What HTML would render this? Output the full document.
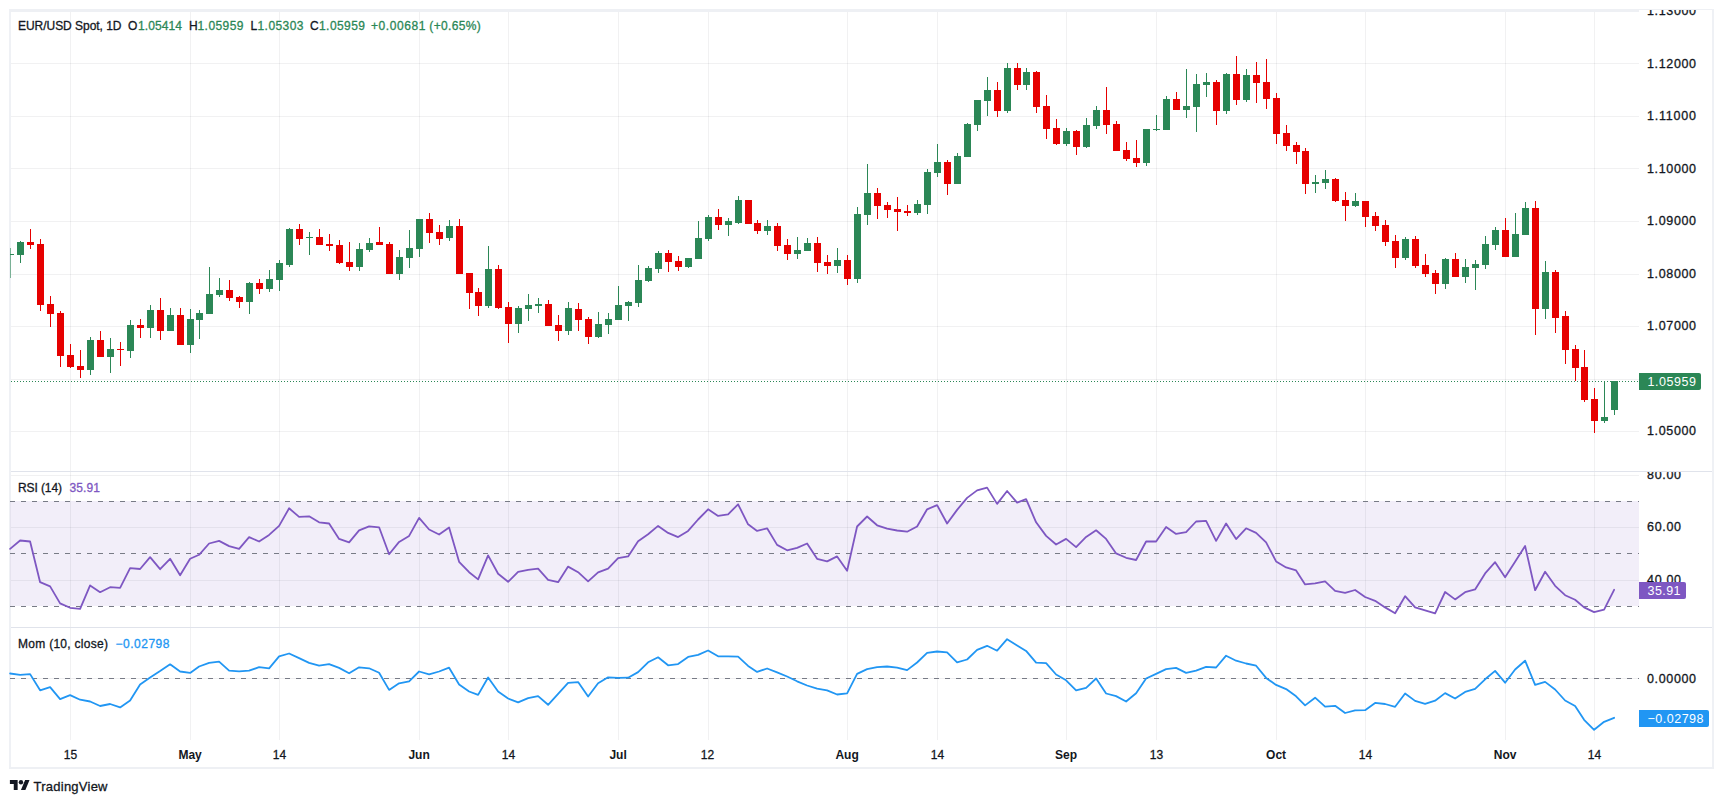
<!DOCTYPE html><html><head><meta charset="utf-8"><title>EUR/USD Spot 1D</title>
<style>html,body{margin:0;padding:0;background:#fff}body{width:1723px;height:803px;overflow:hidden;position:relative}svg{position:absolute;left:0;top:0;display:block}text{font-family:"Liberation Sans",sans-serif;font-size:12px;fill:#131722;stroke-width:0.3px;stroke-linejoin:round}.b{font-weight:bold;stroke:none}</style></head><body>
<svg width="1723" height="803" viewBox="0 0 1723 803">
<g shape-rendering="crispEdges">
<rect x="9" y="9" width="1705" height="1" fill="#eef0f4"/>
<rect x="9" y="10" width="1630" height="2" fill="#eef0f4"/>
<rect x="9" y="9" width="1" height="760" fill="#eff1f5"/>
<rect x="10" y="12" width="1" height="755" fill="#eff1f5"/>
<rect x="1712" y="9" width="2" height="760" fill="#eff1f5"/>
<rect x="9" y="767" width="1705" height="2" fill="#eef0f4"/>
<rect x="11" y="501" width="1628" height="105" fill="#f2eef9"/>
<rect x="10" y="501" width="1" height="105" fill="#e6e3ef"/>
<rect x="70" y="12" width="1" height="728" fill="#2a2e39" fill-opacity="0.065"/>
<rect x="190" y="12" width="1" height="728" fill="#2a2e39" fill-opacity="0.065"/>
<rect x="279" y="12" width="1" height="728" fill="#2a2e39" fill-opacity="0.065"/>
<rect x="419" y="12" width="1" height="728" fill="#2a2e39" fill-opacity="0.065"/>
<rect x="508" y="12" width="1" height="728" fill="#2a2e39" fill-opacity="0.065"/>
<rect x="618" y="12" width="1" height="728" fill="#2a2e39" fill-opacity="0.065"/>
<rect x="708" y="12" width="1" height="728" fill="#2a2e39" fill-opacity="0.065"/>
<rect x="847" y="12" width="1" height="728" fill="#2a2e39" fill-opacity="0.065"/>
<rect x="937" y="12" width="1" height="728" fill="#2a2e39" fill-opacity="0.065"/>
<rect x="1066" y="12" width="1" height="728" fill="#2a2e39" fill-opacity="0.065"/>
<rect x="1156" y="12" width="1" height="728" fill="#2a2e39" fill-opacity="0.065"/>
<rect x="1276" y="12" width="1" height="728" fill="#2a2e39" fill-opacity="0.065"/>
<rect x="1365" y="12" width="1" height="728" fill="#2a2e39" fill-opacity="0.065"/>
<rect x="1505" y="12" width="1" height="728" fill="#2a2e39" fill-opacity="0.065"/>
<rect x="1594" y="12" width="1" height="728" fill="#2a2e39" fill-opacity="0.065"/>
<rect x="11" y="63" width="1628" height="1" fill="#2a2e39" fill-opacity="0.065"/>
<rect x="11" y="116" width="1628" height="1" fill="#2a2e39" fill-opacity="0.065"/>
<rect x="11" y="168" width="1628" height="1" fill="#2a2e39" fill-opacity="0.065"/>
<rect x="11" y="221" width="1628" height="1" fill="#2a2e39" fill-opacity="0.065"/>
<rect x="11" y="274" width="1628" height="1" fill="#2a2e39" fill-opacity="0.065"/>
<rect x="11" y="326" width="1628" height="1" fill="#2a2e39" fill-opacity="0.065"/>
<rect x="11" y="379" width="1628" height="1" fill="#2a2e39" fill-opacity="0.065"/>
<rect x="11" y="431" width="1628" height="1" fill="#2a2e39" fill-opacity="0.065"/>
<rect x="11" y="475" width="1628" height="1" fill="#2a2e39" fill-opacity="0.065"/>
<rect x="11" y="527" width="1628" height="1" fill="#2a2e39" fill-opacity="0.065"/>
<rect x="11" y="580" width="1628" height="1" fill="#2a2e39" fill-opacity="0.065"/>
<rect x="11" y="678" width="1628" height="1" fill="#2a2e39" fill-opacity="0.065"/>
<rect x="11" y="471" width="1701" height="1" fill="#e0e3eb"/>
<rect x="11" y="627" width="1701" height="1" fill="#e0e3eb"/>
</g>
<line x1="10" y1="501.5" x2="1639" y2="501.5" stroke="#787b86" stroke-width="1" stroke-dasharray="5 6" shape-rendering="crispEdges"/>
<line x1="10" y1="553.5" x2="1639" y2="553.5" stroke="#787b86" stroke-width="1" stroke-dasharray="5 6" shape-rendering="crispEdges"/>
<line x1="10" y1="606.5" x2="1639" y2="606.5" stroke="#787b86" stroke-width="1" stroke-dasharray="5 6" shape-rendering="crispEdges"/>
<line x1="10" y1="678.5" x2="1639" y2="678.5" stroke="#787b86" stroke-width="1" stroke-dasharray="5 6" shape-rendering="crispEdges"/>
<line x1="11" y1="381.5" x2="1639" y2="381.5" stroke="#2b8756" stroke-width="1" stroke-dasharray="1 2" shape-rendering="crispEdges"/>
<g shape-rendering="crispEdges">
<rect x="10" y="254" width="4" height="1" fill="#2b8756"/>
<rect x="10" y="248" width="1" height="30" fill="#2b8756" fill-opacity="0.6"/>
<rect x="17" y="242" width="7" height="13" fill="#2b8756"/>
<rect x="20" y="241" width="1" height="22" fill="#2b8756"/>
<rect x="27" y="242" width="7" height="3" fill="#e60000"/>
<rect x="30" y="229" width="1" height="20" fill="#e60000"/>
<rect x="37" y="244" width="7" height="61" fill="#e60000"/>
<rect x="40" y="239" width="1" height="72" fill="#e60000"/>
<rect x="47" y="304" width="7" height="10" fill="#e60000"/>
<rect x="50" y="296" width="1" height="31" fill="#e60000"/>
<rect x="57" y="313" width="7" height="43" fill="#e60000"/>
<rect x="60" y="311" width="1" height="56" fill="#e60000"/>
<rect x="67" y="355" width="7" height="12" fill="#e60000"/>
<rect x="70" y="344" width="1" height="24" fill="#e60000"/>
<rect x="77" y="366" width="7" height="4" fill="#e60000"/>
<rect x="80" y="350" width="1" height="28" fill="#e60000"/>
<rect x="87" y="340" width="7" height="30" fill="#2b8756"/>
<rect x="90" y="337" width="1" height="38" fill="#2b8756"/>
<rect x="97" y="340" width="7" height="17" fill="#e60000"/>
<rect x="100" y="331" width="1" height="26" fill="#e60000"/>
<rect x="107" y="349" width="7" height="8" fill="#2b8756"/>
<rect x="110" y="338" width="1" height="35" fill="#2b8756"/>
<rect x="117" y="349" width="7" height="1" fill="#e60000"/>
<rect x="120" y="342" width="1" height="24" fill="#e60000"/>
<rect x="127" y="325" width="7" height="26" fill="#2b8756"/>
<rect x="130" y="320" width="1" height="38" fill="#2b8756"/>
<rect x="137" y="325" width="7" height="3" fill="#e60000"/>
<rect x="140" y="319" width="1" height="19" fill="#e60000"/>
<rect x="147" y="310" width="7" height="18" fill="#2b8756"/>
<rect x="150" y="305" width="1" height="33" fill="#2b8756"/>
<rect x="157" y="310" width="7" height="21" fill="#e60000"/>
<rect x="160" y="298" width="1" height="42" fill="#e60000"/>
<rect x="167" y="315" width="7" height="16" fill="#2b8756"/>
<rect x="170" y="308" width="1" height="23" fill="#2b8756"/>
<rect x="177" y="315" width="7" height="30" fill="#e60000"/>
<rect x="180" y="308" width="1" height="37" fill="#e60000"/>
<rect x="187" y="319" width="7" height="26" fill="#2b8756"/>
<rect x="190" y="309" width="1" height="44" fill="#2b8756"/>
<rect x="196" y="313" width="7" height="7" fill="#2b8756"/>
<rect x="199" y="310" width="1" height="29" fill="#2b8756"/>
<rect x="206" y="294" width="7" height="20" fill="#2b8756"/>
<rect x="209" y="267" width="1" height="47" fill="#2b8756"/>
<rect x="216" y="290" width="7" height="5" fill="#2b8756"/>
<rect x="219" y="278" width="1" height="19" fill="#2b8756"/>
<rect x="226" y="290" width="7" height="8" fill="#e60000"/>
<rect x="229" y="280" width="1" height="21" fill="#e60000"/>
<rect x="236" y="297" width="7" height="5" fill="#e60000"/>
<rect x="239" y="296" width="1" height="12" fill="#e60000"/>
<rect x="246" y="283" width="7" height="19" fill="#2b8756"/>
<rect x="249" y="282" width="1" height="32" fill="#2b8756"/>
<rect x="256" y="283" width="7" height="6" fill="#e60000"/>
<rect x="259" y="279" width="1" height="15" fill="#e60000"/>
<rect x="266" y="279" width="7" height="10" fill="#2b8756"/>
<rect x="269" y="270" width="1" height="22" fill="#2b8756"/>
<rect x="276" y="263" width="7" height="17" fill="#2b8756"/>
<rect x="279" y="260" width="1" height="31" fill="#2b8756"/>
<rect x="286" y="229" width="7" height="36" fill="#2b8756"/>
<rect x="289" y="228" width="1" height="39" fill="#2b8756"/>
<rect x="296" y="229" width="7" height="10" fill="#e60000"/>
<rect x="299" y="224" width="1" height="21" fill="#e60000"/>
<rect x="306" y="237" width="7" height="1" fill="#2b8756"/>
<rect x="309" y="232" width="1" height="23" fill="#2b8756"/>
<rect x="316" y="237" width="7" height="8" fill="#e60000"/>
<rect x="319" y="229" width="1" height="16" fill="#e60000"/>
<rect x="326" y="244" width="7" height="2" fill="#e60000"/>
<rect x="329" y="234" width="1" height="17" fill="#e60000"/>
<rect x="336" y="245" width="7" height="18" fill="#e60000"/>
<rect x="339" y="240" width="1" height="24" fill="#e60000"/>
<rect x="346" y="262" width="7" height="5" fill="#e60000"/>
<rect x="349" y="242" width="1" height="29" fill="#e60000"/>
<rect x="356" y="249" width="7" height="18" fill="#2b8756"/>
<rect x="359" y="243" width="1" height="28" fill="#2b8756"/>
<rect x="366" y="243" width="7" height="7" fill="#2b8756"/>
<rect x="369" y="238" width="1" height="14" fill="#2b8756"/>
<rect x="376" y="242" width="7" height="3" fill="#e60000"/>
<rect x="379" y="227" width="1" height="18" fill="#e60000"/>
<rect x="386" y="244" width="7" height="30" fill="#e60000"/>
<rect x="389" y="242" width="1" height="32" fill="#e60000"/>
<rect x="396" y="257" width="7" height="17" fill="#2b8756"/>
<rect x="399" y="250" width="1" height="30" fill="#2b8756"/>
<rect x="406" y="248" width="7" height="10" fill="#2b8756"/>
<rect x="409" y="230" width="1" height="38" fill="#2b8756"/>
<rect x="416" y="219" width="7" height="30" fill="#2b8756"/>
<rect x="419" y="219" width="1" height="38" fill="#2b8756"/>
<rect x="426" y="219" width="7" height="14" fill="#e60000"/>
<rect x="429" y="213" width="1" height="30" fill="#e60000"/>
<rect x="436" y="232" width="7" height="7" fill="#e60000"/>
<rect x="439" y="225" width="1" height="20" fill="#e60000"/>
<rect x="446" y="226" width="7" height="12" fill="#2b8756"/>
<rect x="449" y="220" width="1" height="21" fill="#2b8756"/>
<rect x="456" y="226" width="7" height="48" fill="#e60000"/>
<rect x="459" y="219" width="1" height="55" fill="#e60000"/>
<rect x="466" y="273" width="7" height="20" fill="#e60000"/>
<rect x="469" y="273" width="1" height="36" fill="#e60000"/>
<rect x="475" y="292" width="7" height="14" fill="#e60000"/>
<rect x="478" y="288" width="1" height="28" fill="#e60000"/>
<rect x="485" y="269" width="7" height="37" fill="#2b8756"/>
<rect x="488" y="246" width="1" height="62" fill="#2b8756"/>
<rect x="495" y="269" width="7" height="39" fill="#e60000"/>
<rect x="498" y="265" width="1" height="44" fill="#e60000"/>
<rect x="505" y="307" width="7" height="17" fill="#e60000"/>
<rect x="508" y="302" width="1" height="41" fill="#e60000"/>
<rect x="515" y="308" width="7" height="16" fill="#2b8756"/>
<rect x="518" y="306" width="1" height="27" fill="#2b8756"/>
<rect x="525" y="305" width="7" height="4" fill="#2b8756"/>
<rect x="528" y="294" width="1" height="27" fill="#2b8756"/>
<rect x="535" y="304" width="7" height="2" fill="#2b8756"/>
<rect x="538" y="298" width="1" height="15" fill="#2b8756"/>
<rect x="545" y="304" width="7" height="22" fill="#e60000"/>
<rect x="548" y="300" width="1" height="26" fill="#e60000"/>
<rect x="555" y="325" width="7" height="6" fill="#e60000"/>
<rect x="558" y="315" width="1" height="26" fill="#e60000"/>
<rect x="565" y="308" width="7" height="23" fill="#2b8756"/>
<rect x="568" y="302" width="1" height="33" fill="#2b8756"/>
<rect x="575" y="309" width="7" height="11" fill="#e60000"/>
<rect x="578" y="303" width="1" height="28" fill="#e60000"/>
<rect x="585" y="319" width="7" height="18" fill="#e60000"/>
<rect x="588" y="317" width="1" height="27" fill="#e60000"/>
<rect x="595" y="324" width="7" height="13" fill="#2b8756"/>
<rect x="598" y="312" width="1" height="26" fill="#2b8756"/>
<rect x="605" y="319" width="7" height="6" fill="#2b8756"/>
<rect x="608" y="313" width="1" height="21" fill="#2b8756"/>
<rect x="615" y="305" width="7" height="15" fill="#2b8756"/>
<rect x="618" y="286" width="1" height="34" fill="#2b8756"/>
<rect x="625" y="302" width="7" height="4" fill="#2b8756"/>
<rect x="628" y="301" width="1" height="20" fill="#2b8756"/>
<rect x="635" y="280" width="7" height="23" fill="#2b8756"/>
<rect x="638" y="265" width="1" height="42" fill="#2b8756"/>
<rect x="645" y="268" width="7" height="13" fill="#2b8756"/>
<rect x="648" y="266" width="1" height="16" fill="#2b8756"/>
<rect x="655" y="253" width="7" height="16" fill="#2b8756"/>
<rect x="658" y="251" width="1" height="22" fill="#2b8756"/>
<rect x="665" y="253" width="7" height="9" fill="#e60000"/>
<rect x="668" y="250" width="1" height="22" fill="#e60000"/>
<rect x="675" y="261" width="7" height="6" fill="#e60000"/>
<rect x="678" y="256" width="1" height="15" fill="#e60000"/>
<rect x="685" y="258" width="7" height="9" fill="#2b8756"/>
<rect x="688" y="258" width="1" height="10" fill="#2b8756"/>
<rect x="695" y="238" width="7" height="21" fill="#2b8756"/>
<rect x="698" y="221" width="1" height="38" fill="#2b8756"/>
<rect x="705" y="217" width="7" height="22" fill="#2b8756"/>
<rect x="708" y="215" width="1" height="26" fill="#2b8756"/>
<rect x="715" y="217" width="7" height="8" fill="#e60000"/>
<rect x="718" y="209" width="1" height="21" fill="#e60000"/>
<rect x="725" y="221" width="7" height="4" fill="#2b8756"/>
<rect x="728" y="218" width="1" height="18" fill="#2b8756"/>
<rect x="735" y="200" width="7" height="23" fill="#2b8756"/>
<rect x="738" y="196" width="1" height="28" fill="#2b8756"/>
<rect x="745" y="200" width="7" height="24" fill="#e60000"/>
<rect x="754" y="223" width="7" height="8" fill="#e60000"/>
<rect x="757" y="220" width="1" height="14" fill="#e60000"/>
<rect x="764" y="226" width="7" height="5" fill="#2b8756"/>
<rect x="767" y="220" width="1" height="15" fill="#2b8756"/>
<rect x="774" y="226" width="7" height="20" fill="#e60000"/>
<rect x="777" y="223" width="1" height="28" fill="#e60000"/>
<rect x="784" y="245" width="7" height="9" fill="#e60000"/>
<rect x="787" y="239" width="1" height="21" fill="#e60000"/>
<rect x="794" y="250" width="7" height="4" fill="#2b8756"/>
<rect x="797" y="237" width="1" height="22" fill="#2b8756"/>
<rect x="804" y="243" width="7" height="8" fill="#2b8756"/>
<rect x="807" y="238" width="1" height="13" fill="#2b8756"/>
<rect x="814" y="243" width="7" height="20" fill="#e60000"/>
<rect x="817" y="237" width="1" height="35" fill="#e60000"/>
<rect x="824" y="262" width="7" height="4" fill="#e60000"/>
<rect x="827" y="255" width="1" height="19" fill="#e60000"/>
<rect x="834" y="260" width="7" height="6" fill="#2b8756"/>
<rect x="837" y="248" width="1" height="25" fill="#2b8756"/>
<rect x="844" y="260" width="7" height="19" fill="#e60000"/>
<rect x="847" y="255" width="1" height="30" fill="#e60000"/>
<rect x="854" y="214" width="7" height="65" fill="#2b8756"/>
<rect x="857" y="207" width="1" height="76" fill="#2b8756"/>
<rect x="864" y="193" width="7" height="22" fill="#2b8756"/>
<rect x="867" y="164" width="1" height="61" fill="#2b8756"/>
<rect x="874" y="193" width="7" height="13" fill="#e60000"/>
<rect x="877" y="188" width="1" height="31" fill="#e60000"/>
<rect x="884" y="205" width="7" height="5" fill="#e60000"/>
<rect x="887" y="202" width="1" height="16" fill="#e60000"/>
<rect x="894" y="209" width="7" height="3" fill="#e60000"/>
<rect x="897" y="197" width="1" height="34" fill="#e60000"/>
<rect x="904" y="211" width="7" height="2" fill="#e60000"/>
<rect x="907" y="205" width="1" height="11" fill="#e60000"/>
<rect x="914" y="204" width="7" height="9" fill="#2b8756"/>
<rect x="917" y="200" width="1" height="15" fill="#2b8756"/>
<rect x="924" y="172" width="7" height="33" fill="#2b8756"/>
<rect x="927" y="169" width="1" height="45" fill="#2b8756"/>
<rect x="934" y="162" width="7" height="11" fill="#2b8756"/>
<rect x="937" y="144" width="1" height="33" fill="#2b8756"/>
<rect x="944" y="162" width="7" height="22" fill="#e60000"/>
<rect x="947" y="160" width="1" height="35" fill="#e60000"/>
<rect x="954" y="156" width="7" height="28" fill="#2b8756"/>
<rect x="957" y="153" width="1" height="31" fill="#2b8756"/>
<rect x="964" y="124" width="7" height="33" fill="#2b8756"/>
<rect x="967" y="123" width="1" height="34" fill="#2b8756"/>
<rect x="974" y="100" width="7" height="25" fill="#2b8756"/>
<rect x="977" y="100" width="1" height="31" fill="#2b8756"/>
<rect x="984" y="90" width="7" height="11" fill="#2b8756"/>
<rect x="987" y="77" width="1" height="39" fill="#2b8756"/>
<rect x="994" y="90" width="7" height="21" fill="#e60000"/>
<rect x="997" y="82" width="1" height="35" fill="#e60000"/>
<rect x="1004" y="68" width="7" height="43" fill="#2b8756"/>
<rect x="1007" y="63" width="1" height="50" fill="#2b8756"/>
<rect x="1014" y="68" width="7" height="17" fill="#e60000"/>
<rect x="1017" y="63" width="1" height="27" fill="#e60000"/>
<rect x="1023" y="72" width="7" height="13" fill="#2b8756"/>
<rect x="1026" y="68" width="1" height="22" fill="#2b8756"/>
<rect x="1033" y="72" width="7" height="35" fill="#e60000"/>
<rect x="1036" y="71" width="1" height="42" fill="#e60000"/>
<rect x="1043" y="106" width="7" height="23" fill="#e60000"/>
<rect x="1046" y="95" width="1" height="44" fill="#e60000"/>
<rect x="1053" y="128" width="7" height="16" fill="#e60000"/>
<rect x="1056" y="119" width="1" height="26" fill="#e60000"/>
<rect x="1063" y="131" width="7" height="13" fill="#2b8756"/>
<rect x="1066" y="128" width="1" height="18" fill="#2b8756"/>
<rect x="1073" y="131" width="7" height="16" fill="#e60000"/>
<rect x="1076" y="130" width="1" height="25" fill="#e60000"/>
<rect x="1083" y="125" width="7" height="22" fill="#2b8756"/>
<rect x="1086" y="118" width="1" height="30" fill="#2b8756"/>
<rect x="1093" y="110" width="7" height="16" fill="#2b8756"/>
<rect x="1096" y="106" width="1" height="23" fill="#2b8756"/>
<rect x="1103" y="110" width="7" height="15" fill="#e60000"/>
<rect x="1106" y="87" width="1" height="47" fill="#e60000"/>
<rect x="1113" y="124" width="7" height="27" fill="#e60000"/>
<rect x="1116" y="121" width="1" height="30" fill="#e60000"/>
<rect x="1123" y="150" width="7" height="9" fill="#e60000"/>
<rect x="1126" y="142" width="1" height="19" fill="#e60000"/>
<rect x="1133" y="158" width="7" height="5" fill="#e60000"/>
<rect x="1136" y="140" width="1" height="27" fill="#e60000"/>
<rect x="1143" y="129" width="7" height="34" fill="#2b8756"/>
<rect x="1146" y="129" width="1" height="37" fill="#2b8756"/>
<rect x="1153" y="129" width="7" height="1" fill="#2b8756"/>
<rect x="1156" y="115" width="1" height="16" fill="#2b8756"/>
<rect x="1163" y="99" width="7" height="31" fill="#2b8756"/>
<rect x="1166" y="96" width="1" height="34" fill="#2b8756"/>
<rect x="1173" y="99" width="7" height="11" fill="#e60000"/>
<rect x="1176" y="92" width="1" height="18" fill="#e60000"/>
<rect x="1183" y="106" width="7" height="4" fill="#2b8756"/>
<rect x="1186" y="69" width="1" height="49" fill="#2b8756"/>
<rect x="1193" y="84" width="7" height="23" fill="#2b8756"/>
<rect x="1196" y="74" width="1" height="58" fill="#2b8756"/>
<rect x="1203" y="82" width="7" height="3" fill="#2b8756"/>
<rect x="1206" y="73" width="1" height="24" fill="#2b8756"/>
<rect x="1213" y="82" width="7" height="29" fill="#e60000"/>
<rect x="1216" y="80" width="1" height="45" fill="#e60000"/>
<rect x="1223" y="74" width="7" height="37" fill="#2b8756"/>
<rect x="1226" y="73" width="1" height="41" fill="#2b8756"/>
<rect x="1233" y="74" width="7" height="26" fill="#e60000"/>
<rect x="1236" y="56" width="1" height="49" fill="#e60000"/>
<rect x="1243" y="75" width="7" height="25" fill="#2b8756"/>
<rect x="1246" y="69" width="1" height="33" fill="#2b8756"/>
<rect x="1253" y="75" width="7" height="8" fill="#e60000"/>
<rect x="1256" y="62" width="1" height="41" fill="#e60000"/>
<rect x="1263" y="82" width="7" height="17" fill="#e60000"/>
<rect x="1266" y="59" width="1" height="50" fill="#e60000"/>
<rect x="1273" y="98" width="7" height="36" fill="#e60000"/>
<rect x="1276" y="93" width="1" height="51" fill="#e60000"/>
<rect x="1283" y="133" width="7" height="13" fill="#e60000"/>
<rect x="1286" y="125" width="1" height="26" fill="#e60000"/>
<rect x="1293" y="145" width="7" height="7" fill="#e60000"/>
<rect x="1296" y="142" width="1" height="22" fill="#e60000"/>
<rect x="1302" y="151" width="7" height="33" fill="#e60000"/>
<rect x="1305" y="148" width="1" height="46" fill="#e60000"/>
<rect x="1312" y="182" width="7" height="2" fill="#2b8756"/>
<rect x="1315" y="175" width="1" height="18" fill="#2b8756"/>
<rect x="1322" y="179" width="7" height="4" fill="#2b8756"/>
<rect x="1325" y="170" width="1" height="19" fill="#2b8756"/>
<rect x="1332" y="179" width="7" height="22" fill="#e60000"/>
<rect x="1335" y="178" width="1" height="24" fill="#e60000"/>
<rect x="1342" y="200" width="7" height="6" fill="#e60000"/>
<rect x="1345" y="192" width="1" height="29" fill="#e60000"/>
<rect x="1352" y="201" width="7" height="5" fill="#2b8756"/>
<rect x="1355" y="193" width="1" height="14" fill="#2b8756"/>
<rect x="1362" y="201" width="7" height="16" fill="#e60000"/>
<rect x="1365" y="201" width="1" height="26" fill="#e60000"/>
<rect x="1372" y="216" width="7" height="10" fill="#e60000"/>
<rect x="1375" y="212" width="1" height="19" fill="#e60000"/>
<rect x="1382" y="225" width="7" height="17" fill="#e60000"/>
<rect x="1385" y="220" width="1" height="26" fill="#e60000"/>
<rect x="1392" y="241" width="7" height="17" fill="#e60000"/>
<rect x="1395" y="235" width="1" height="33" fill="#e60000"/>
<rect x="1402" y="239" width="7" height="19" fill="#2b8756"/>
<rect x="1405" y="237" width="1" height="23" fill="#2b8756"/>
<rect x="1412" y="239" width="7" height="27" fill="#e60000"/>
<rect x="1415" y="236" width="1" height="32" fill="#e60000"/>
<rect x="1422" y="265" width="7" height="9" fill="#e60000"/>
<rect x="1425" y="254" width="1" height="23" fill="#e60000"/>
<rect x="1432" y="273" width="7" height="11" fill="#e60000"/>
<rect x="1435" y="270" width="1" height="24" fill="#e60000"/>
<rect x="1442" y="259" width="7" height="25" fill="#2b8756"/>
<rect x="1445" y="258" width="1" height="31" fill="#2b8756"/>
<rect x="1452" y="259" width="7" height="18" fill="#e60000"/>
<rect x="1455" y="253" width="1" height="24" fill="#e60000"/>
<rect x="1462" y="267" width="7" height="10" fill="#2b8756"/>
<rect x="1465" y="259" width="1" height="24" fill="#2b8756"/>
<rect x="1472" y="264" width="7" height="4" fill="#2b8756"/>
<rect x="1475" y="260" width="1" height="30" fill="#2b8756"/>
<rect x="1482" y="244" width="7" height="21" fill="#2b8756"/>
<rect x="1485" y="236" width="1" height="33" fill="#2b8756"/>
<rect x="1492" y="230" width="7" height="15" fill="#2b8756"/>
<rect x="1495" y="227" width="1" height="23" fill="#2b8756"/>
<rect x="1502" y="230" width="7" height="27" fill="#e60000"/>
<rect x="1505" y="218" width="1" height="39" fill="#e60000"/>
<rect x="1512" y="234" width="7" height="23" fill="#2b8756"/>
<rect x="1515" y="213" width="1" height="44" fill="#2b8756"/>
<rect x="1522" y="208" width="7" height="27" fill="#2b8756"/>
<rect x="1525" y="202" width="1" height="33" fill="#2b8756"/>
<rect x="1532" y="208" width="7" height="101" fill="#e60000"/>
<rect x="1535" y="201" width="1" height="134" fill="#e60000"/>
<rect x="1542" y="272" width="7" height="37" fill="#2b8756"/>
<rect x="1545" y="261" width="1" height="58" fill="#2b8756"/>
<rect x="1552" y="272" width="7" height="46" fill="#e60000"/>
<rect x="1555" y="270" width="1" height="63" fill="#e60000"/>
<rect x="1562" y="316" width="7" height="34" fill="#e60000"/>
<rect x="1565" y="311" width="1" height="53" fill="#e60000"/>
<rect x="1572" y="349" width="7" height="19" fill="#e60000"/>
<rect x="1575" y="345" width="1" height="36" fill="#e60000"/>
<rect x="1581" y="367" width="7" height="33" fill="#e60000"/>
<rect x="1584" y="350" width="1" height="52" fill="#e60000"/>
<rect x="1591" y="399" width="7" height="22" fill="#e60000"/>
<rect x="1594" y="388" width="1" height="45" fill="#e60000"/>
<rect x="1601" y="417" width="7" height="4" fill="#2b8756"/>
<rect x="1604" y="381" width="1" height="42" fill="#2b8756"/>
<rect x="1611" y="381" width="7" height="29" fill="#2b8756"/>
<rect x="1614" y="381" width="1" height="34" fill="#2b8756"/>
</g>
<polyline points="10.1,548.9 20.1,540.5 30.1,541.5 40.1,582.2 50.1,586.4 60.1,603.4 70.1,607.8 80.1,608.8 90.1,585.4 100.1,592.2 110.1,587.2 120.1,587.8 130.1,568.2 140.1,569.0 150.1,557.2 160.1,569.2 170.1,558.8 180.1,575.2 190.1,558.8 199.1,554.8 209.1,543.5 219.1,540.9 229.1,546.1 239.1,548.9 249.1,537.1 259.1,541.5 269.1,534.9 279.1,525.9 289.1,508.3 299.1,516.9 309.1,516.3 319.1,522.3 329.1,523.5 339.1,538.9 349.1,542.3 359.1,530.3 369.1,526.3 379.1,527.3 389.1,554.2 399.1,541.9 409.1,535.9 419.1,517.9 429.1,529.5 439.1,534.5 449.1,527.5 459.1,561.8 469.1,572.2 478.1,579.4 488.1,555.4 498.1,573.8 508.1,581.8 518.1,571.8 528.1,569.8 538.1,568.6 548.1,579.8 558.1,582.2 568.1,566.6 578.1,572.2 588.1,581.4 598.1,572.4 608.1,568.6 618.1,558.2 628.1,556.4 638.1,541.3 648.1,534.3 658.1,525.9 668.1,532.9 678.1,537.1 688.1,530.9 698.1,519.5 708.1,509.3 718.1,515.9 728.1,514.3 738.1,504.3 748.1,524.3 757.1,530.9 767.1,528.3 777.1,544.9 787.1,550.3 797.1,547.9 807.1,543.5 817.1,558.8 827.1,561.4 837.1,556.4 847.1,570.8 857.1,526.5 867.1,516.5 877.1,525.3 887.1,528.7 897.1,530.5 907.1,531.7 917.1,526.5 927.1,509.3 937.1,505.1 947.1,523.5 957.1,509.9 967.1,497.9 977.1,490.4 987.1,487.6 997.1,503.9 1007.1,491.0 1017.1,502.7 1026.1,499.1 1036.1,522.3 1046.1,535.9 1056.1,544.5 1066.1,538.9 1076.1,547.1 1086.1,536.9 1096.1,530.3 1106.1,538.9 1116.1,553.4 1126.1,557.8 1136.1,560.0 1146.1,541.5 1156.1,541.5 1166.1,526.9 1176.1,533.9 1186.1,532.1 1196.1,521.5 1206.1,520.9 1216.1,540.9 1226.1,523.5 1236.1,539.1 1246.1,528.3 1256.1,532.9 1266.1,542.3 1276.1,561.4 1286.1,567.4 1296.1,570.4 1305.1,584.4 1315.1,583.4 1325.1,581.4 1335.1,590.8 1345.1,592.8 1355.1,590.0 1365.1,597.0 1375.1,600.8 1385.1,607.4 1395.1,613.3 1405.1,596.2 1415.1,607.4 1425.1,610.3 1435.1,613.3 1445.1,592.0 1455.1,599.4 1465.1,592.2 1475.1,589.4 1485.1,573.4 1495.1,562.2 1505.1,577.2 1515.1,561.8 1525.1,545.9 1535.1,590.2 1545.1,571.8 1555.1,585.8 1565.1,595.2 1575.1,599.8 1584.1,607.4 1594.1,612.1 1604.1,609.7 1614.1,589.8" fill="none" stroke="#7e57c2" stroke-width="1.8" stroke-linejoin="round" stroke-linecap="round"/>
<polyline points="10.1,673.5 20.1,674.9 30.1,674.1 40.1,690.3 50.1,687.1 60.1,699.1 70.1,695.1 80.1,699.7 90.1,701.5 100.1,706.0 110.1,704.0 120.1,707.4 130.1,700.5 140.1,684.5 150.1,677.5 160.1,671.1 170.1,664.3 180.1,671.5 190.1,672.9 199.1,666.5 209.1,662.9 219.1,661.7 229.1,670.7 239.1,671.3 249.1,670.7 259.1,667.1 269.1,668.3 279.1,656.3 289.1,653.5 299.1,658.1 309.1,662.9 319.1,665.7 329.1,664.1 339.1,667.9 349.1,673.3 359.1,667.3 369.1,668.3 379.1,672.7 389.1,689.9 399.1,683.3 409.1,681.3 419.1,671.5 429.1,674.3 439.1,671.5 449.1,667.7 459.1,684.5 469.1,691.5 478.1,694.9 488.1,677.5 498.1,691.5 508.1,698.5 518.1,702.3 528.1,698.1 538.1,696.1 548.1,704.8 558.1,693.9 568.1,682.9 578.1,682.1 588.1,696.5 598.1,683.3 608.1,677.3 618.1,677.9 628.1,677.7 638.1,672.1 648.1,662.3 658.1,657.3 668.1,665.3 678.1,664.1 688.1,656.9 698.1,654.9 708.1,650.5 718.1,656.3 728.1,656.3 738.1,656.7 748.1,665.9 757.1,671.9 767.1,668.5 777.1,672.3 787.1,676.5 797.1,681.3 807.1,685.5 817.1,688.7 827.1,690.3 837.1,694.5 847.1,693.3 857.1,673.9 867.1,669.1 877.1,667.1 887.1,666.5 897.1,667.7 907.1,670.1 917.1,662.5 927.1,652.9 937.1,651.5 947.1,652.3 957.1,662.3 967.1,659.5 977.1,649.9 987.1,645.8 997.1,650.7 1007.1,639.2 1017.1,645.4 1026.1,650.9 1036.1,662.7 1046.1,663.1 1056.1,674.5 1066.1,680.3 1076.1,690.3 1086.1,687.9 1096.1,678.5 1106.1,693.5 1116.1,696.1 1126.1,701.5 1136.1,693.3 1146.1,678.5 1156.1,673.9 1166.1,669.1 1176.1,667.9 1186.1,672.9 1196.1,670.7 1206.1,666.9 1216.1,667.5 1226.1,655.7 1236.1,660.7 1246.1,663.5 1256.1,665.7 1266.1,677.9 1276.1,684.9 1286.1,689.1 1296.1,696.3 1305.1,705.4 1315.1,697.7 1325.1,706.6 1335.1,705.8 1345.1,713.0 1355.1,710.4 1365.1,710.2 1375.1,702.9 1385.1,704.0 1395.1,706.8 1405.1,693.5 1415.1,700.9 1425.1,703.8 1435.1,700.7 1445.1,693.1 1455.1,698.5 1465.1,691.9 1475.1,688.9 1485.1,679.3 1495.1,670.9 1505.1,682.7 1515.1,669.5 1525.1,660.7 1535.1,684.9 1545.1,681.9 1555.1,689.5 1565.1,700.5 1575.1,706.0 1584.1,719.8 1594.1,729.8 1604.1,721.8 1614.1,717.8" fill="none" stroke="#2196f3" stroke-width="1.8" stroke-linejoin="round" stroke-linecap="round"/>
<defs><clipPath id="cp1"><rect x="1639" y="10" width="73" height="461"/></clipPath><clipPath id="cp2"><rect x="1639" y="472" width="73" height="155"/></clipPath></defs>
<g clip-path="url(#cp1)">
<text x="1647" y="15.35" textLength="49" lengthAdjust="spacing" style="font-size:12.5px;stroke:#131722">1.13000</text>
<text x="1647" y="67.95" textLength="49" lengthAdjust="spacing" style="font-size:12.5px;stroke:#131722">1.12000</text>
<text x="1647" y="120.05" textLength="49" lengthAdjust="spacing" style="font-size:12.5px;stroke:#131722">1.11000</text>
<text x="1647" y="172.95" textLength="49" lengthAdjust="spacing" style="font-size:12.5px;stroke:#131722">1.10000</text>
<text x="1647" y="225.05" textLength="49" lengthAdjust="spacing" style="font-size:12.5px;stroke:#131722">1.09000</text>
<text x="1647" y="278.05" textLength="49" lengthAdjust="spacing" style="font-size:12.5px;stroke:#131722">1.08000</text>
<text x="1647" y="329.95" textLength="49" lengthAdjust="spacing" style="font-size:12.5px;stroke:#131722">1.07000</text>
<text x="1647" y="382.95" textLength="49" lengthAdjust="spacing" style="font-size:12.5px;stroke:#131722">1.06000</text>
<text x="1647" y="435.05" textLength="49" lengthAdjust="spacing" style="font-size:12.5px;stroke:#131722">1.05000</text>
</g>
<g clip-path="url(#cp2)">
<text x="1647" y="479.05" textLength="34" lengthAdjust="spacing" style="font-size:12.5px;stroke:#131722">80.00</text>
<text x="1647" y="531.15" textLength="34" lengthAdjust="spacing" style="font-size:12.5px;stroke:#131722">60.00</text>
<text x="1647" y="584.05" textLength="34" lengthAdjust="spacing" style="font-size:12.5px;stroke:#131722">40.00</text>
</g>
<text x="1647" y="683.05" textLength="49" lengthAdjust="spacing" style="font-size:12.5px;stroke:#131722">0.00000</text>
<path d="M1639 373h60a2 2 0 0 1 2 2v13a2 2 0 0 1 -2 2h-60z" fill="#2b8756"/>
<text x="1647.5" y="385.95" textLength="48.5" lengthAdjust="spacing" style="fill:#fff;font-size:12.5px">1.05959</text>
<path d="M1639 582h45a2 2 0 0 1 2 2v13a2 2 0 0 1 -2 2h-45z" fill="#7e57c2"/>
<text x="1647.5" y="594.95" textLength="33" lengthAdjust="spacing" style="fill:#fff;font-size:12.5px">35.91</text>
<path d="M1639 710h68a2 2 0 0 1 2 2v13a2 2 0 0 1 -2 2h-68z" fill="#2196f3"/>
<text x="1647.5" y="722.95" textLength="56" lengthAdjust="spacing" style="fill:#fff;font-size:12.5px">−0.02798</text>
<text x="18" y="29.6" textLength="103.5" lengthAdjust="spacing" style="stroke:#131722">EUR/USD Spot, 1D</text>
<text x="128" y="29.6" textLength="9.5" lengthAdjust="spacing" style="stroke:#131722">O</text>
<text x="138" y="29.6" textLength="44" lengthAdjust="spacing" style="fill:#2b8756;stroke:#2b8756">1.05414</text>
<text x="189" y="29.6" textLength="8.5" lengthAdjust="spacing" style="stroke:#131722">H</text>
<text x="197.5" y="29.6" textLength="46" lengthAdjust="spacing" style="fill:#2b8756;stroke:#2b8756">1.05959</text>
<text x="250.5" y="29.6" textLength="6.5" lengthAdjust="spacing" style="stroke:#131722">L</text>
<text x="257.5" y="29.6" textLength="46" lengthAdjust="spacing" style="fill:#2b8756;stroke:#2b8756">1.05303</text>
<text x="310" y="29.6" textLength="9" lengthAdjust="spacing" style="stroke:#131722">C</text>
<text x="319" y="29.6" textLength="46" lengthAdjust="spacing" style="fill:#2b8756;stroke:#2b8756">1.05959</text>
<text x="371" y="29.6" textLength="54.5" lengthAdjust="spacing" style="fill:#2b8756;stroke:#2b8756">+0.00681</text>
<text x="429.3" y="29.6" textLength="51.5" lengthAdjust="spacing" style="fill:#2b8756;stroke:#2b8756">(+0.65%)</text>
<text x="18" y="492" textLength="44" lengthAdjust="spacing" style="stroke:#131722">RSI (14)</text>
<text x="69.5" y="492" textLength="30.5" lengthAdjust="spacing" style="fill:#7e57c2;stroke:#7e57c2">35.91</text>
<text x="18" y="648" textLength="90" lengthAdjust="spacing" style="stroke:#131722">Mom (10, close)</text>
<text x="115.5" y="648" textLength="54" lengthAdjust="spacing" style="fill:#2196f3;stroke:#2196f3">−0.02798</text>
<text x="70.5" y="758.8" style="stroke:#131722" text-anchor="middle">15</text>
<text x="190.1" y="758.8" class="b" text-anchor="middle">May</text>
<text x="279.5" y="758.8" style="stroke:#131722" text-anchor="middle">14</text>
<text x="419.1" y="758.8" class="b" text-anchor="middle">Jun</text>
<text x="508.5" y="758.8" style="stroke:#131722" text-anchor="middle">14</text>
<text x="618.1" y="758.8" class="b" text-anchor="middle">Jul</text>
<text x="707.5" y="758.8" style="stroke:#131722" text-anchor="middle">12</text>
<text x="847.1" y="758.8" class="b" text-anchor="middle">Aug</text>
<text x="937.5" y="758.8" style="stroke:#131722" text-anchor="middle">14</text>
<text x="1066.1" y="758.8" class="b" text-anchor="middle">Sep</text>
<text x="1156.5" y="758.8" style="stroke:#131722" text-anchor="middle">13</text>
<text x="1276.1" y="758.8" class="b" text-anchor="middle">Oct</text>
<text x="1365.5" y="758.8" style="stroke:#131722" text-anchor="middle">14</text>
<text x="1505.1" y="758.8" class="b" text-anchor="middle">Nov</text>
<text x="1594.5" y="758.8" style="stroke:#131722" text-anchor="middle">14</text>
<g transform="translate(9.9,777.9) scale(0.553)" fill="#131722"><path d="M14 22H7V11H0V4h14v18zM28 22h-8l7.5-18h8L28 22z"/><circle cx="20" cy="8" r="4"/></g>
<text x="33.5" y="790.7" textLength="74" lengthAdjust="spacing" style="font-size:13px;stroke:#131722">TradingView</text>
</svg></body></html>
